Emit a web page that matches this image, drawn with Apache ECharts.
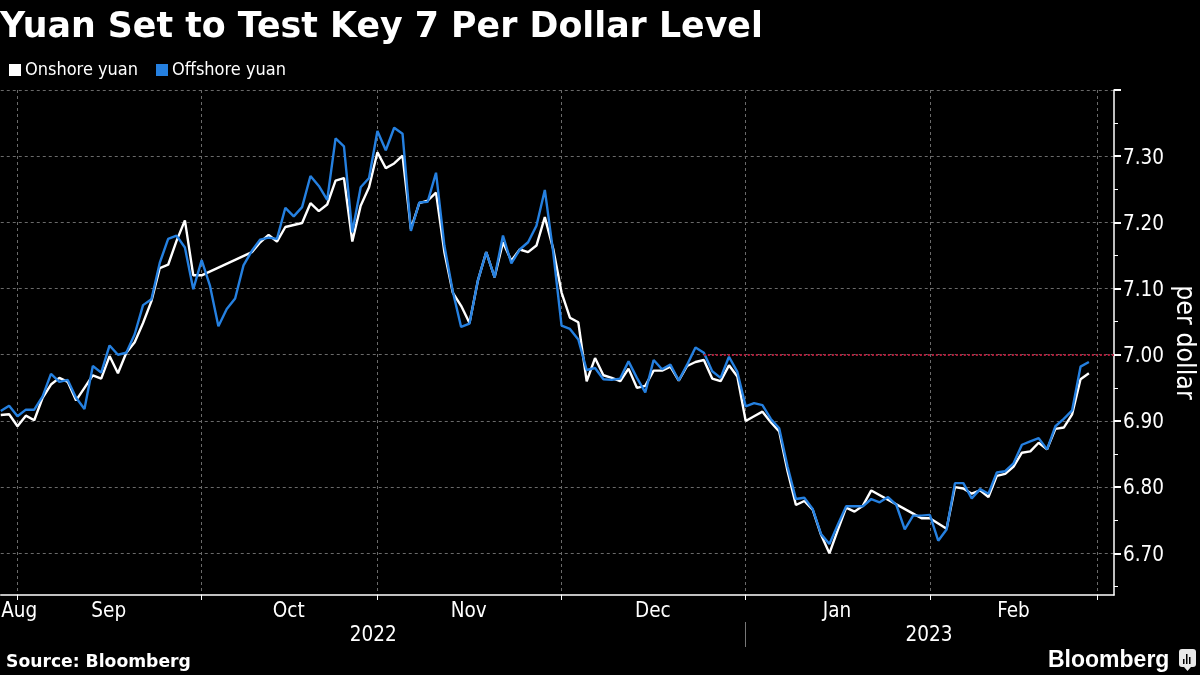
<!DOCTYPE html>
<html>
<head>
<meta charset="utf-8">
<style>
  html, body { margin: 0; background: #000; }
  #chart { width: 1200px; height: 675px; }
</style>
<script src="https://cdn.jsdelivr.net/npm/echarts@6/dist/echarts.min.js"></script>
</head>
<body>
<div id="chart"></div>
<script>
// every weekday from 30 Aug 2022, x axis counts in weekdays
const onshore = [6.909,6.910,6.892,6.908,6.901,6.935,6.955,6.965,6.959,6.931,6.950,6.969,6.964,6.998,6.972,7.003,7.019,7.048,7.081,7.131,7.136,7.172,7.203,7.120,7.120,null,null,null,null,null,7.155,7.170,7.181,7.171,7.193,7.196,7.199,7.229,7.217,7.227,7.263,7.267,7.171,7.225,7.253,7.306,7.282,7.289,7.301,7.190,7.229,7.233,7.245,7.155,7.094,7.074,7.048,7.112,7.155,7.117,7.170,7.142,7.159,7.155,7.165,7.208,7.160,7.094,7.056,7.049,6.960,6.995,6.969,6.965,6.960,6.979,6.950,6.953,6.976,6.976,6.982,6.961,6.983,6.989,6.992,6.964,6.960,6.984,6.967,6.900,6.907,6.914,6.898,6.884,6.824,6.773,6.779,6.766,6.728,6.700,6.735,6.769,6.763,6.772,6.795,null,null,null,null,6.760,6.753,6.753,6.745,6.737,6.800,6.798,6.790,6.795,6.785,6.817,6.820,6.831,6.852,6.854,6.867,6.857,6.888,6.890,6.910,6.963,6.972];
const offshore = [6.915,6.923,6.907,6.917,6.917,6.937,6.971,6.959,6.962,6.935,6.918,6.983,6.973,7.014,7.000,7.003,7.031,7.075,7.084,7.139,7.175,7.180,7.162,7.099,7.143,7.104,7.043,7.069,7.085,7.135,7.157,7.174,7.177,7.175,7.222,7.209,7.223,7.270,7.255,7.234,7.327,7.315,7.185,7.253,7.267,7.338,7.309,7.343,7.334,7.187,7.230,7.231,7.275,7.165,7.096,7.042,7.047,7.112,7.155,7.117,7.180,7.138,7.159,7.170,7.195,7.249,7.155,7.044,7.039,7.023,6.977,6.980,6.963,6.962,6.964,6.990,6.965,6.943,6.992,6.978,6.985,6.961,6.985,7.011,7.003,6.975,6.965,6.997,6.974,6.922,6.927,6.924,6.903,6.889,6.831,6.782,6.784,6.767,6.729,6.714,6.743,6.771,6.771,6.771,6.782,6.777,6.785,6.773,6.736,6.757,6.757,6.758,6.719,6.736,6.806,6.806,6.783,6.797,6.790,6.822,6.824,6.836,6.864,6.869,6.874,6.857,6.892,6.903,6.916,6.982,6.989];

// positions on the weekday axis
const monthTicks = [2, 24, 45, 67, 89, 111, 131];
const monthLabels = ['Aug', 'Sep', 'Oct', 'Nov', 'Dec', 'Jan', 'Feb'];
const monthLabelPos = [2.2, 12.9, 34.4, 55.9, 77.9, 99.9, 121];
const yearLabels = ['2022', '2023'];
const yearLabelPos = [44.5, 110.9];
const yearTicks = [89];
const majorTicks = [6.7, 6.8, 6.9, 7.0, 7.1, 7.2, 7.3, 7.4];
const minorTicks = [6.65, 6.75, 6.85, 6.95, 7.05, 7.15, 7.25, 7.35];
const refLevel = 7.0;
const refStart = 84;

const xMin = 0, xMax = 133;
const yMin = 6.637, yMax = 7.4;
const white = '#ffffff';
const blue = '#2580e0';
const gridGrey = '#6a6a6a';
const cond = '"DejaVu Sans Condensed", "DejaVu Sans"';

const toPoints = (arr) => arr.map((v, i) => [i, v]);

const chart = echarts.init(document.getElementById('chart'));
chart.setOption({
  animation: false,
  backgroundColor: '#000000',
  textStyle: { fontFamily: cond },
  grid: { left: 0.76, right: 86, top: 90, bottom: 80, containLabel: false, outerBoundsMode: 'none' },
  legend: {
    left: 9, top: 61,
    icon: 'rect',
    itemWidth: 12, itemHeight: 12, itemGap: 18,
    padding: 0,
    data: ['Onshore yuan', 'Offshore yuan'],
    textStyle: { color: white, fontFamily: cond, fontSize: 18, padding: [2, 0, 0, -1] }
  },
  xAxis: [
    {
      type: 'value', min: xMin, max: xMax, position: 'bottom',
      axisLine: { onZero: false, lineStyle: { color: white, width: 1.5 } },
      axisTick: { customValues: monthTicks, length: 5, lineStyle: { color: white } },
      axisLabel: {
        customValues: monthLabelPos, color: white, fontSize: 20.5, margin: 6,
        formatter: (v) => monthLabels[monthLabelPos.indexOf(v)]
      },
      splitLine: { show: true, lineStyle: { color: gridGrey, type: [3, 3], width: 1 } }
    },
    {
      type: 'value', min: xMin, max: xMax, position: 'bottom', offset: 27,
      axisLine: { show: false, onZero: false },
      axisTick: { customValues: yearTicks, length: 25, lineStyle: { color: '#777777' } },
      axisLabel: {
        customValues: yearLabelPos, color: white, fontSize: 20.5, margin: 3,
        formatter: (v) => yearLabels[yearLabelPos.indexOf(v)]
      },
      splitLine: { show: false }
    }
  ],
  yAxis: [
    {
      type: 'value', min: yMin, max: yMax, position: 'right',
      name: 'per dollar', nameLocation: 'middle', nameGap: 56, nameRotate: -90, nameMoveOverlap: false,
      nameTextStyle: { color: white, fontSize: 26.5 },
      axisLine: { show: true, onZero: false, lineStyle: { color: white, width: 1.5 } },
      axisTick: { show: true, customValues: majorTicks, length: 7, lineStyle: { color: white, width: 2 } },
      axisLabel: {
        customValues: majorTicks.slice(0, -1), color: white, fontSize: 20.5, margin: 9,
        verticalAlign: 'top', lineHeight: 4,
        formatter: (v) => v.toFixed(2)
      },
      splitLine: { show: true, lineStyle: { color: gridGrey, type: [3, 3], width: 1 } }
    },
    {
      type: 'value', min: yMin, max: yMax, position: 'right',
      axisLine: { show: false, onZero: false },
      axisTick: { show: true, customValues: minorTicks, length: 4, lineStyle: { color: white } },
      axisLabel: { show: false },
      splitLine: { show: false }
    }
  ],
  series: [
    {
      name: 'Onshore yuan', type: 'line', data: toPoints(onshore),
      xAxisIndex: 0, yAxisIndex: 0,
      connectNulls: true, showSymbol: false,
      itemStyle: { color: white },
      lineStyle: { color: white, width: 2.4 },
      markLine: {
        silent: true, symbol: 'none', label: { show: false },
        lineStyle: { color: '#b01e3c', type: [2, 2], width: 2 },
        data: [[{ coord: [refStart, refLevel] }, { coord: [xMax, refLevel] }]]
      }
    },
    {
      name: 'Offshore yuan', type: 'line', data: toPoints(offshore),
      xAxisIndex: 0, yAxisIndex: 0,
      showSymbol: false,
      itemStyle: { color: blue },
      lineStyle: { color: blue, width: 2.4 }
    }
  ],
  graphic: [
    { type: 'text', left: 0, top: 10, style: { text: 'Yuan Set to Test Key 7 Per Dollar Level', fill: white, font: 'bold 34.8px "DejaVu Sans"' } },
    { type: 'text', left: 6, top: 654, style: { text: 'Source: Bloomberg', fill: white, font: 'bold 17.2px "DejaVu Sans"' } },
    { type: 'text', left: 1048, top: 649, style: { text: 'Bloomberg', fill: white, font: 'bold 23px "Liberation Sans"' } },
    { type: 'rect', left: 1179, top: 649, shape: { width: 17, height: 18, r: 3 }, style: { fill: '#e8e8e8' } },
    { type: 'polygon', shape: { points: [[1184, 667], [1191, 667], [1187.5, 671]] }, style: { fill: '#e8e8e8' } },
    { type: 'rect', left: 1183, top: 659, shape: { width: 1.5, height: 5 }, style: { fill: '#000000' } },
    { type: 'rect', left: 1186, top: 654, shape: { width: 1.5, height: 10 }, style: { fill: '#000000' } },
    { type: 'rect', left: 1189, top: 657, shape: { width: 1.5, height: 7 }, style: { fill: '#000000' } }
  ]
});
</script>
</body>
</html>
